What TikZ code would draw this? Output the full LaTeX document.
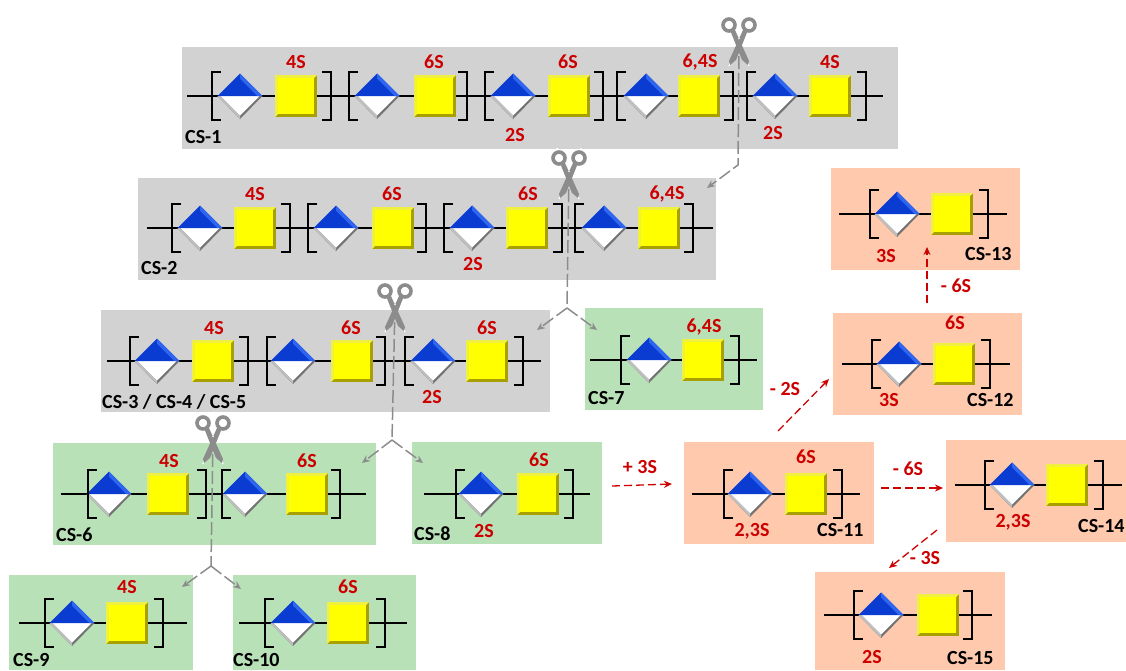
\documentclass[tikz,border=0pt]{standalone}
\usepackage{fontspec}
\setmainfont{Carlito}
\usetikzlibrary{arrows.meta}
\definecolor{pgray}{HTML}{D2D2D2}
\definecolor{pgreen}{HTML}{B9E1B8}
\definecolor{psalmon}{HTML}{FFC9AE}
\definecolor{redtxt}{HTML}{CC0000}
\definecolor{cutgray}{HTML}{8C8C8C}
\definecolor{glyblue}{HTML}{0A3CD2}
\definecolor{glylight}{HTML}{2F66F0}
\definecolor{sqyellow}{HTML}{FFFF00}
\definecolor{sqdark}{HTML}{A8A000}
\definecolor{sqlight}{HTML}{F0F040}
\tikzset{
 panel/.style={inner sep=0pt,outer sep=0pt,draw=none},
 red label/.style={inner sep=0pt,text=redtxt,font=\fontsize{20}{20}\selectfont\bfseries},
 cs label/.style={inner sep=0pt,anchor=west,text=black,font=\fontsize{20}{20}\selectfont\bfseries},
 op label/.style={inner sep=0pt,text=redtxt,font=\fontsize{20}{20}\selectfont\bfseries},
 chainline/.style={line width=1.2pt,black},
 brk/.style={line width=1.3pt,black},
 cutline/.style={cutgray,line width=1.5pt,dash pattern=on 13pt off 4pt},
 cutarrow/.style={cutline,-{Stealth[length=8pt,width=7pt]}},
 forkline/.style={cutgray,line width=1.5pt},
 oparrow/.style={redtxt,line width=1.3pt,dash pattern=on 8pt off 4pt,-{Stealth[length=8pt,width=7pt]}},
}
% panel: name x1 y1 x2 y2 colour
\newcommand{\mkpanel}[6]{\node[panel,fill=#6,minimum width={(#4-#2)*1pt},minimum height={(#5-#3)*1pt}] (#1) at ({(#2+#4)/2},{(#3+#5)/2}) {};}
% chain: name y xl xr
\newcommand{\mkchain}[4]{\coordinate (#1-l) at (#3,#2);\coordinate (#1-r) at (#4,#2);\draw[chainline] (#1-l) -- (#1-r);}
% repeat unit: name diamondx squarex bracketl bracketr y
\newcommand{\mkunit}[6]{%
 \begin{scope}[shift={(#2,#6)}]
  \fill[black!55] (-22.5,0) -- (0,23) -- (22.5,0) -- cycle;
  \fill[white] (-19.5,0) -- (0,19.5) -- (19.5,0) -- cycle;
  \fill[black!25] (-19.5,0) -- (0,19.5) -- (0,23) -- (-22.5,0) -- cycle;
  \fill[glyblue] (-22.5,0) -- (0,-22.5) -- (22.5,0) -- cycle;
  \fill[glylight] (0,-22.5) -- (22.5,0) -- (17.5,0) -- (0,-17.5) -- cycle;
  \node[inner sep=0pt,minimum size=1pt] (#1-d) at (0,0) {};
 \end{scope}
 \begin{scope}[shift={(#3,#6)}]
  \fill[sqdark] (-21,-21) rectangle (21,21);
  \fill[sqlight] (-21,-21) -- (21,-21) -- (18,-18) -- (-18,-18) -- (-18,18) -- (-21,21) -- cycle;
  \fill[sqyellow] (-18,-18) rectangle (18,18);
  \node[inner sep=0pt,minimum size=1pt] (#1-s) at (0,0) {};
 \end{scope}
 \draw[brk] ({#4+9},{#6-24}) -- ++(-9,0) -- ++(0,48) -- ++(9,0);
 \draw[brk] ({#5-9},{#6-24}) -- ++(9,0) -- ++(0,48) -- ++(-9,0);
}
% scissors: name x y (pivot)
\newcommand{\mkscissors}[3]{%
 \begin{scope}[shift={(#2,#3)}]
  \draw[white,line width=1.2pt] (-12,-24) -- (10,27) (12,-24) -- (-10,27);
  \draw[cutgray,line width=3.6pt] (-10,-14) circle (6) (10,-14) circle (6);
  \fill[cutgray] (-9,-9) -- (-4,-9) -- (10,22) -- (9,26) -- (3,21) -- cycle;
  \fill[cutgray] (9,-9) -- (4,-9) -- (-10,22) -- (-9,26) -- (-3,21) -- cycle;
  \fill[white] (0,0) circle (1.2);
  \coordinate (#1) at (0,0);
 \end{scope}
}
\begin{document}
\begin{tikzpicture}[x=1pt,y=-1pt]
\useasboundingbox (0,0) rectangle (1126,670);
\clip (0,0) rectangle (1126,670);
\mkpanel{cs1}{182}{47}{898}{149}{pgray}
\mkpanel{cs2}{138}{178}{716}{280}{pgray}
\mkpanel{cs3}{101}{310}{550}{412}{pgray}
\mkpanel{cs7}{585}{308}{763}{410}{pgreen}
\mkpanel{cs6}{53}{443}{376}{545}{pgreen}
\mkpanel{cs8}{412}{442}{602}{544}{pgreen}
\mkpanel{cs9}{9}{575}{193}{670}{pgreen}
\mkpanel{cs10}{233}{575}{416}{670}{pgreen}
\mkpanel{cs11}{684}{442}{874}{544}{psalmon}
\mkpanel{cs12}{833}{313}{1022}{415}{psalmon}
\mkpanel{cs13}{831}{168}{1020}{270}{psalmon}
\mkpanel{cs14}{946}{440}{1126}{542}{psalmon}
\mkpanel{cs15}{815}{572}{1005}{670}{psalmon}
% chains
\mkchain{a}{96}{187}{883}
\mkchain{b}{228}{147}{713}
\mkchain{c}{361}{107}{541}
\mkchain{g}{360}{590}{757}
\mkchain{f}{494}{61}{366}
\mkchain{h}{494}{424}{590}
\mkchain{i}{623}{19}{187}
\mkchain{j}{623}{239}{407}
\mkchain{k}{494}{692}{860}
\mkchain{l}{364}{842}{1010}
\mkchain{m}{214}{839}{1007}
\mkchain{n}{485}{955}{1122}
\mkchain{o}{615}{824}{992}
% units
\mkunit{a1}{240}{296}{212}{331}{96}
\mkunit{a2}{377}{435}{349}{467}{96}
\mkunit{a3}{513}{569}{485}{603}{96}
\mkunit{a4}{646}{699}{617}{733}{96}
\mkunit{a5}{775}{830}{747}{866}{96}
\mkunit{b1}{200}{255}{172}{290}{228}
\mkunit{b2}{336}{393}{308}{426}{228}
\mkunit{b3}{472}{527}{444}{562}{228}
\mkunit{b4}{604}{659}{575}{693}{228}
\mkunit{c1}{157}{213}{130}{248}{361}
\mkunit{c2}{293}{352}{267}{385}{361}
\mkunit{c3}{433}{487}{405}{523}{361}
\mkunit{g1}{649}{703}{621}{739}{360}
\mkunit{f1}{109}{168}{88}{206}{494}
\mkunit{f2}{245}{307}{222}{340}{494}
\mkunit{h1}{481}{538}{456}{573}{494}
\mkunit{i1}{72}{127}{45}{163}{623}
\mkunit{j1}{293}{348}{265}{385}{623}
\mkunit{k1}{750}{806}{724}{842}{494}
\mkunit{l1}{899}{954}{872}{990}{364}
\mkunit{m1}{897}{952}{870}{988}{214}
\mkunit{n1}{1012}{1067}{985}{1103}{485}
\mkunit{o1}{881}{938}{854}{972}{615}
% sulfate labels
\foreach \t/\x/\y/\n in {4S/296/62/r1,6S/434/62/r2,6S/568/62/r3,{6,4S}/700/62/r4,4S/830/62/r5,2S/515/135/r6,2S/773/133/r7,
 4S/255/194/r8,6S/392/194/r9,6S/528/194/r10,{6,4S}/667/194/r11,2S/473/264/r12,
 4S/214/328/r13,6S/351/328/r14,6S/487/328/r15,2S/432/397/r16,{6,4S}/704/327/r17,
 4S/169/461/r18,6S/307/461/r19,6S/539/460/r20,2S/484/531/r21,4S/127/587/r22,6S/348/587/r23,
 6S/806/457/r24,{2,3S}/752/531/r25,6S/955/323/r26,3S/889/400/r27,3S/886/256/r28,{2,3S}/1013/522/r29,2S/872/657/r30}
 {\node[red label] (\n) at (\x,\y) {\t};}
% name labels
\node[cs label] (l1) at (185,137) {CS-1};
\node[cs label] (l2) at (141,268) {CS-2};
\node[cs label] (l3) at (102,402) {CS-3 / CS-4 / CS-5};
\node[cs label] (l7) at (588,398) {CS-7};
\node[cs label] (l6) at (56,535) {CS-6};
\node[cs label] (l8) at (414,534) {CS-8};
\node[cs label] (l9) at (13,660) {CS-9};
\node[cs label] (l10) at (233,660) {CS-10};
\node[cs label] (l11) at (817,530) {CS-11};
\node[cs label] (l12) at (967,400) {CS-12};
\node[cs label] (l13) at (965,254) {CS-13};
\node[cs label] (l14) at (1078,526) {CS-14};
\node[cs label] (l15) at (947,658) {CS-15};
% cuts
\mkscissors{s1}{739}{39}
\mkscissors{s2}{569}{172}
\mkscissors{s3}{395}{305}
\mkscissors{s4}{213}{437}
\coordinate (b1) at (738,165); \coordinate (e1) at (707,188);
\draw[cutarrow] (s1) -- (b1) -- (e1);
\coordinate (p2) at (567,308); \coordinate (e2a) at (537,330); \coordinate (e2b) at (597,330);
\draw[cutline] (s2) -- (p2);
\draw[cutarrow] (p2) -- (e2a);
\draw[cutarrow] (p2) -- (e2b);
\coordinate (p3) at (392,440); \coordinate (e3a) at (362,463); \coordinate (e3b) at (423,463);
\draw[cutline] (s3) -- (p3);
\draw[cutarrow] (p3) -- (e3a);
\draw[cutarrow] (p3) -- (e3b);
\coordinate (p4) at (211,566); \coordinate (e4a) at (182,587); \coordinate (e4b) at (241,589);
\draw[cutline] (s4) -- (p4);
\draw[cutarrow] (p4) -- (e4a);
\draw[cutarrow] (p4) -- (e4b);
% reactions
\coordinate (o1s) at (612,486); \coordinate (o1e) at (672,484);
\draw[oparrow] (o1s) -- (o1e);
\node[op label] (op1) at (640,467) {+ 3S};
\coordinate (o2s) at (881,488); \coordinate (o2e) at (943,488);
\draw[oparrow] (o2s) -- (o2e);
\node[op label] (op2) at (908,469) {- 6S};
\coordinate (o3s) at (778,431); \coordinate (o3e) at (829,379);
\draw[oparrow] (o3s) -- (o3e);
\node[op label] (op3) at (785,389) {- 2S};
\coordinate (o4s) at (927,303); \coordinate (o4e) at (927,247);
\draw[oparrow] (o4s) -- (o4e);
\node[op label] (op4) at (956,286) {- 6S};
\coordinate (o5s) at (937,530); \coordinate (o5e) at (889,568);
\draw[oparrow] (o5s) -- (o5e);
\node[op label] (op5) at (925,558) {- 3S};
\end{tikzpicture}
\end{document}
